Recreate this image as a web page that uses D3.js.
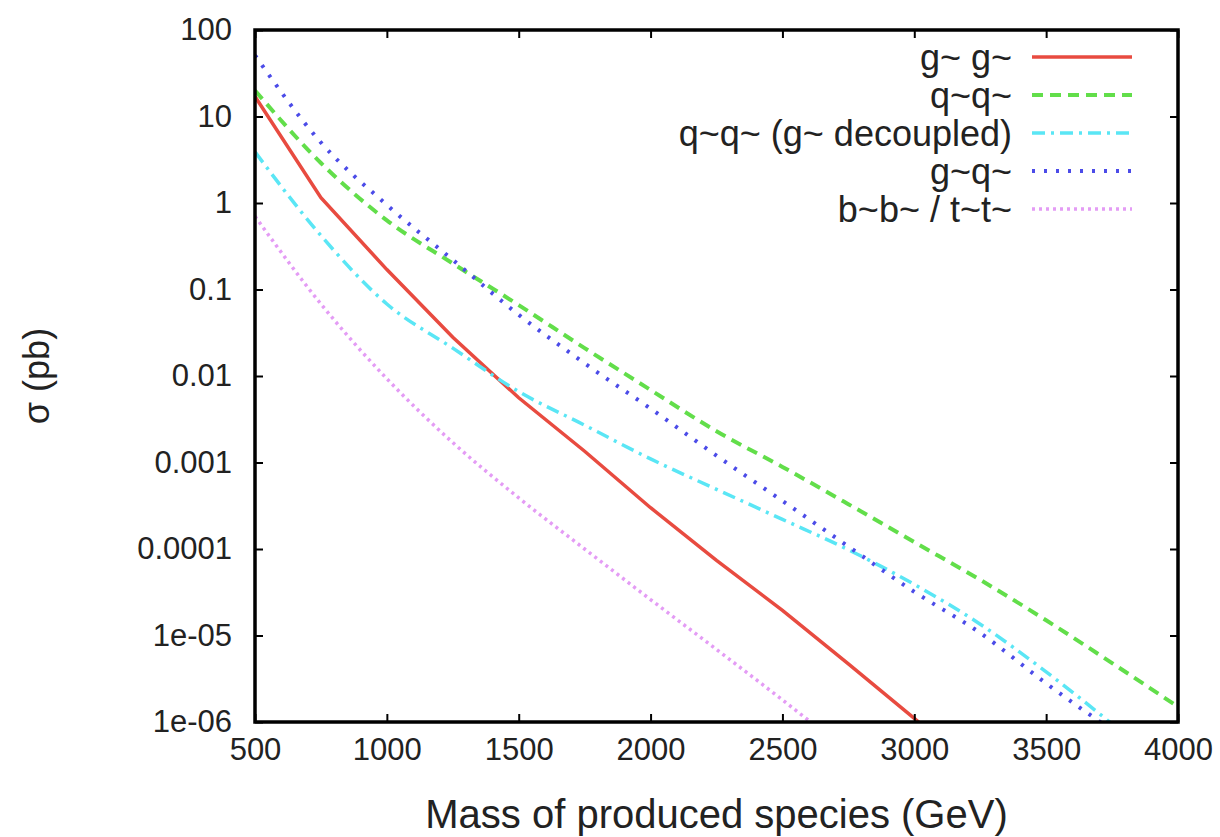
<!DOCTYPE html>
<html>
<head>
<meta charset="utf-8">
<script src="https://cdn.jsdelivr.net/npm/d3@7"></script>
<style>
  body { margin: 0; background: #fff; }
  svg { display: block; font-family: "Liberation Sans", Arial, Helvetica, sans-serif; }
</style>
</head>
<body>
<div id="chart"></div>
<script>
// masses (GeV) at which the cross sections were read
const masses = [500, 750, 1000, 1250, 1500, 1750, 2000, 2250, 2500, 2750, 3000, 3250, 3500, 3750, 4000];

// cross sections in pb
const gluinoPair   = [17, 1.15, 0.17, 0.028, 0.0056, 0.00135, 3.0e-4, 7.4e-5, 1.95e-5, 4.7e-6, 1.1e-6, 2.5e-7];
const squarkPair   = [20, 2.9, 0.63, 0.2, 0.066, 0.021, 0.0069, 0.0023, 8.9e-4, 3.3e-4, 1.2e-4, 4.4e-5, 1.5e-5, 4.8e-6, 1.5e-6];
const squarkDecoup = [3.9, 0.42, 0.068, 0.021, 0.0066, 0.0027, 0.0011, 4.9e-4, 2.2e-4, 9.8e-5, 3.9e-5, 1.35e-5, 3.8e-6, 9.5e-7];
const gluinoSquark = [51, 5.0, 0.95, 0.22, 0.051, 0.014, 0.0042, 0.0012, 3.6e-4, 1.07e-4, 3.2e-5, 1.07e-5, 2.8e-6, 8e-7];
const thirdGen     = [0.70, 0.068, 0.0093, 0.0017, 3.9e-4, 1.0e-4, 2.6e-5, 6.9e-6, 1.8e-6, 4.5e-7];

const seriesNames = ["g~ g~", "q~q~", "q~q~ (g~ decoupled)", "g~q~", "b~b~ / t~t~"];

const xTicks = [500, 1000, 1500, 2000, 2500, 3000, 3500, 4000];
const yTicks = [100, 10, 1, 0.1, 0.01, 0.001, 0.0001, 1e-5, 1e-6];
const yTickLabels = ["100", "10", "1", "0.1", "0.01", "0.001", "0.0001", "1e-05", "1e-06"];

const margin = { top: 30, right: 42, bottom: 115, left: 255 };
const fullW = 1220, fullH = 837;
const width = fullW - margin.left - margin.right;
const height = fullH - margin.top - margin.bottom;

const svgRoot = d3.select("#chart").append("svg")
  .attr("width", fullW)
  .attr("height", fullH);

const svg = svgRoot.append("g")
  .attr("transform", `translate(${margin.left},${margin.top})`);

const x = d3.scaleLinear().domain([500, 4000]).range([0, width]);
const y = d3.scaleLog().domain([1e-6, 100]).range([height, 0]);

svg.append("clipPath").attr("id", "plot-clip")
  .append("rect").attr("width", width).attr("height", height);

// line styles, gnuplot-ish
const styles = [
  { color: "#e84b40", width: 3.5, dash: null, curve: d3.curveLinear },
  { color: "#62de4a", width: 4, dash: "11,7", curve: d3.curveMonotoneX },
  { color: "#5ae6f5", width: 3.5, dash: "13,6,3,6", curve: d3.curveMonotoneX },
  { color: "#4b4be8", width: 4, dash: "3,9", curve: d3.curveMonotoneX },
  { color: "#e49cf5", width: 3.5, dash: "3,4", curve: d3.curveMonotoneX }
];

const series = [gluinoPair, squarkPair, squarkDecoup, gluinoSquark, thirdGen].map((vals, i) => ({
  name: seriesNames[i],
  style: styles[i],
  values: vals.map((v, j) => ({ m: masses[j], s: v }))
}));

const line = d3.line()
  .x(d => x(d.m))
  .y(d => y(d.s));

svg.append("g")
  .attr("clip-path", "url(#plot-clip)")
  .selectAll("path")
  .data(series)
  .enter()
  .append("path")
  .attr("fill", "none")
  .attr("stroke", d => d.style.color)
  .attr("stroke-width", d => d.style.width)
  .attr("stroke-dasharray", d => d.style.dash)
  .attr("d", d => line.curve(d.style.curve)(d.values));

// axes: ticks point inward, mirrored on top and right
svg.append("g")
  .call(d3.axisLeft(y).tickValues(yTicks).tickFormat((d, i) => yTickLabels[i])
    .tickSizeInner(-8).tickSizeOuter(0).tickPadding(23));

svg.append("g")
  .attr("transform", `translate(0,${height})`)
  .call(d3.axisBottom(x).tickValues(xTicks).tickFormat(d3.format("d"))
    .tickSizeInner(-8).tickSizeOuter(0).tickPadding(16));

svg.append("g")
  .call(d3.axisTop(x).tickValues(xTicks).tickFormat("").tickSizeInner(-8).tickSizeOuter(0));
svg.append("g")
  .attr("transform", `translate(${width},0)`)
  .call(d3.axisRight(y).tickValues(yTicks).tickFormat("").tickSizeInner(-8).tickSizeOuter(0));

svg.selectAll(".domain").remove();
svg.selectAll(".tick line").attr("stroke", "#000").attr("stroke-width", 2);
svg.selectAll(".tick text")
  .attr("fill", "#222")
  .style("font-size", "31px")
  .style("font-family", "'Liberation Sans', Arial, sans-serif");

svg.append("rect")
  .attr("width", width)
  .attr("height", height)
  .attr("fill", "none")
  .attr("stroke", "#000")
  .attr("stroke-width", 3.5);

// axis titles
svg.append("text")
  .attr("x", width / 2)
  .attr("y", height + 106)
  .attr("text-anchor", "middle")
  .attr("fill", "#222")
  .style("font-size", "40px")
  .text("Mass of produced species (GeV)");

svg.append("text")
  .attr("transform", `translate(${-206},${height / 2}) rotate(-90)`)
  .attr("text-anchor", "middle")
  .attr("fill", "#222")
  .style("font-size", "36px")
  .text("σ (pb)");

// legend
const legend = svg.append("g").attr("transform", `translate(${width - 146},27)`);

const items = legend.selectAll(".legend-item")
  .data(series)
  .enter()
  .append("g")
  .attr("class", "legend-item")
  .attr("transform", (d, i) => `translate(0,${i * 38})`);

items.append("line")
  .attr("x1", 0).attr("x2", 100)
  .attr("stroke", d => d.style.color)
  .attr("stroke-width", d => d.style.width)
  .attr("stroke-dasharray", d => d.style.dash);

items.append("text")
  .attr("x", -20)
  .attr("dy", "0.35em")
  .attr("text-anchor", "end")
  .attr("fill", "#222")
  .style("font-size", "36px")
  .text(d => d.name);
</script>
</body>
</html>
